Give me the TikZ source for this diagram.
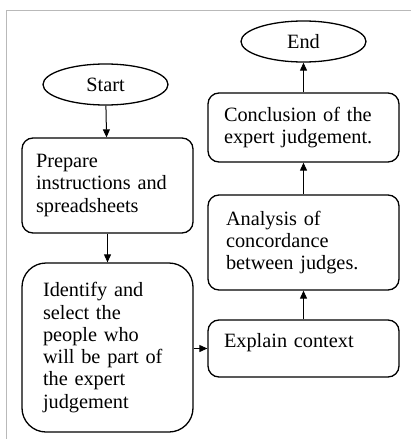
\documentclass[tikz,border=0pt]{standalone}
\usepackage{fontspec}
\setmainfont{Liberation Serif}
\usepackage{tikz}
\usetikzlibrary{
    shapes.geometric,
    arrows.meta
}

\begin{document}
\begin{tikzpicture}[x=1pt,y=-1pt,->,>={Triangle[length=8pt,width=7pt]},line width=1pt,
    font=\fontsize{20.3}{22.3}\selectfont]
    \tikzset{procbox/.style={draw, line width=1.3pt, rounded corners=11pt, align=left,
        inner ysep=0pt, minimum width=191pt}}
    \tikzset{termbox/.style={draw, line width=1.3pt, ellipse, inner sep=0pt,
        minimum width=125pt, minimum height=41pt}}
    \useasboundingbox (0,0) rectangle (411,439);
    \draw [-, gray!55, line width=1pt] (6.3,439) -- (6.3,10.3) -- (411,10.3);

    \node [termbox] (start) at (105.5, 84.5) {Start};
    \node [termbox] (end) at (303.5, 41.5) {End};

    \node [procbox, minimum width=171pt, minimum height=95pt, inner xsep=14pt,
        text width=143pt] (prep) at (107.5, 185.5) {Prepare\\ instructions and\\ spreadsheets};
    \node [procbox, minimum width=171pt, minimum height=169pt, inner xsep=21pt,
        text width=129pt, rounded corners=24pt] (ident) at (107.5, 347.5)
        {Identify and\\ select the\\ people who\\ will be part of\\ the expert\\ judgement};

    \node [procbox, minimum height=57pt, inner xsep=16pt, text width=159pt,
        text depth=17pt] (expl) at (303.5, 348.5) {Explain context};
    \node [procbox, minimum height=95pt, inner xsep=18pt, text width=155pt]
        (anal) at (303.5, 242.5) {Analysis of\\ concordance\\ between judges.};
    \node [procbox, minimum height=69pt, inner xsep=16pt, text width=159pt]
        (concl) at (303.5, 127.5) {Conclusion of the\\ expert judgement.};

    \draw (start) -- (prep);
    \draw (prep) -- (ident);
    \draw (ident.east |- expl.west) -- (expl.west);
    \draw (expl) -- (anal);
    \draw (anal) -- (concl);
    \draw (concl) -- (end);
\end{tikzpicture}
\end{document}
